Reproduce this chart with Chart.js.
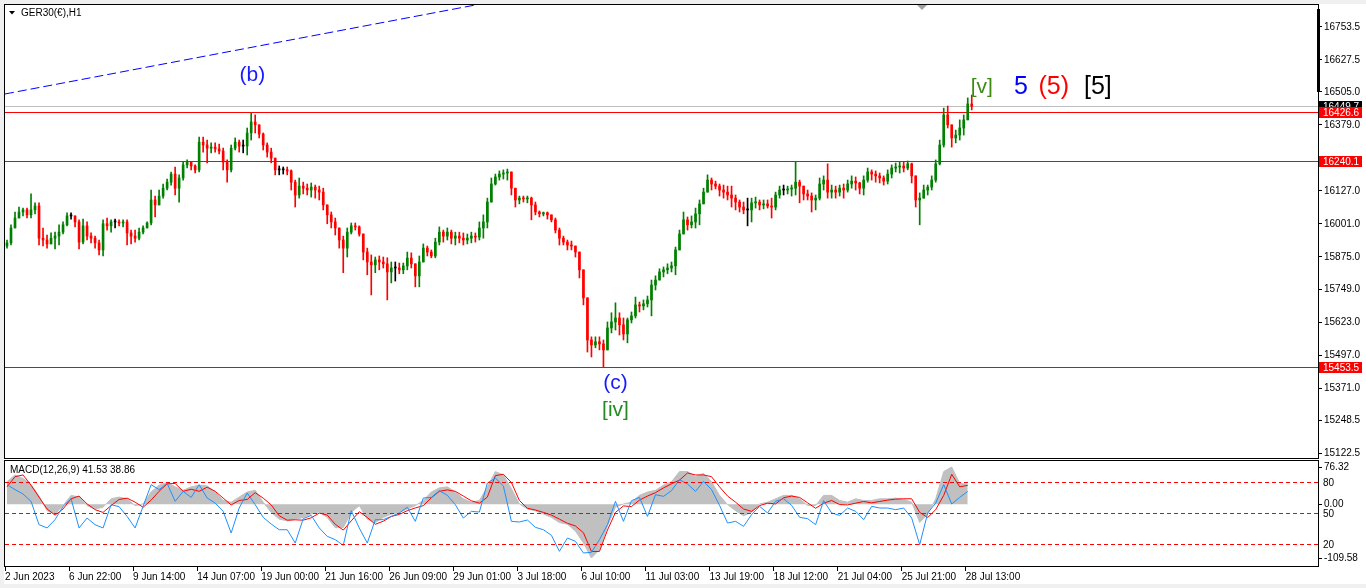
<!DOCTYPE html>
<html>
<head>
<meta charset="utf-8">
<script src="https://cdn.jsdelivr.net/npm/chart.js@4.4.0/dist/chart.umd.min.js"></script>
<style>
  html, body { margin: 0; padding: 0; width: 1366px; height: 588px; overflow: hidden; background: #f0f0f0; }
  #sheet { position: absolute; left: 4px; top: 4px; width: 1362px; height: 580px; background: #fff; }
  #priceBox { position: absolute; left: 0; top: 0; }
  #macdBox { position: absolute; left: 0; top: 458px; }
</style>
</head>
<body>
<div id="sheet"></div>
<canvas id="priceBox" width="1366" height="460"></canvas>
<canvas id="macdBox" width="1366" height="130"></canvas>
<script>
const firstOpen = 15916;
const closes = [
  15928, 15985, 16023, 16046, 16054, 16035, 16054, 16069, 15946, 15939,
  15924, 15946, 15954, 15969, 15997, 16031, 16031, 16008, 15931, 15993,
  15954, 15946, 15928, 15901, 16001, 15993, 16008, 16008, 16004, 16008,
  15966, 15954, 15946, 15969, 15985, 16004, 16092, 16073, 16107, 16137,
  16160, 16191, 16137, 16176, 16226, 16237, 16222, 16207, 16313, 16302,
  16290, 16294, 16287, 16279, 16237, 16207, 16290, 16313, 16298, 16298,
  16348, 16390, 16379, 16344, 16302, 16275, 16252, 16207, 16207, 16207,
  16203, 16160, 16111, 16145, 16137, 16130, 16141, 16130, 16122, 16073,
  16035, 16008, 15985, 15939, 15908, 15969, 15993, 15989, 15962, 15893,
  15855, 15844, 15863, 15855, 15848, 15817, 15832, 15832, 15825, 15840,
  15870, 15848, 15802, 15855, 15908, 15893, 15878, 15931, 15969, 15954,
  15969, 15946, 15954, 15946, 15939, 15946, 15954, 15950, 15985, 16008,
  16084, 16153, 16180, 16191, 16195, 16199, 16137, 16092, 16099, 16096,
  16099, 16073, 16046, 16039, 16043, 16035, 16016, 15977, 15946, 15931,
  15920, 15916, 15893, 15825, 15718, 15557, 15538, 15550, 15542, 15519,
  15603, 15626, 15641, 15615, 15580, 15634, 15649, 15691, 15687, 15695,
  15710, 15767, 15786, 15817, 15825, 15832, 15840, 15901, 15962, 16016,
  15997, 16008, 16039, 16077, 16122, 16168, 16153, 16145, 16130, 16122,
  16111, 16099, 16084, 16065, 16054, 16054, 16081, 16084, 16073, 16077,
  16069, 16065, 16111, 16130, 16130, 16134, 16137, 16160, 16145, 16115,
  16107, 16092, 16099, 16153, 16168, 16122, 16130, 16122, 16137, 16130,
  16153, 16164, 16157, 16137, 16168, 16199, 16191, 16184, 16176, 16164,
  16191, 16214, 16218, 16222, 16214, 16230, 16184, 16092, 16099, 16130,
  16141, 16168, 16230, 16302, 16417, 16379, 16329, 16340, 16367, 16398,
  16459, 16450
];
const highs = [
  15939, 15997, 16046, 16065, 16061, 16061, 16115, 16081, 16081, 15985,
  15958, 15966, 15969, 15997, 16008, 16043, 16043, 16031, 16016, 16019,
  16008, 15966, 15954, 15939, 16016, 16023, 16016, 16019, 16016, 16016,
  16016, 15977, 15977, 15985, 15993, 16008, 16130, 16107, 16130, 16153,
  16172, 16199, 16218, 16188, 16237, 16245, 16237, 16226, 16332, 16332,
  16321, 16310, 16310, 16306, 16290, 16245, 16302, 16329, 16321, 16321,
  16367, 16424, 16417, 16359, 16348, 16310, 16290, 16245, 16222, 16218,
  16218, 16207, 16168, 16176, 16160, 16153, 16157, 16149, 16145, 16137,
  16073, 16046, 16023, 15985, 15954, 15985, 16004, 16004, 15993, 15962,
  15908, 15882, 15874, 15878, 15874, 15871, 15855, 15855, 15851, 15851,
  15893, 15890, 15844, 15878, 15924, 15916, 15901, 15946, 15989, 15977,
  15985, 15977, 15969, 15969, 15966, 15962, 15969, 15966, 16008, 16035,
  16099, 16176, 16191, 16203, 16207, 16210, 16199, 16137, 16107, 16107,
  16107, 16103, 16084, 16050, 16046, 16046, 16035, 16023, 15985, 15954,
  15939, 15935, 15916, 15893, 15825, 15718, 15569, 15569, 15569, 15557,
  15626, 15661, 15699, 15661, 15641, 15641, 15664, 15721, 15702, 15710,
  15725, 15786, 15802, 15829, 15836, 15848, 15855, 15912, 15977, 16046,
  16027, 16031, 16061, 16092, 16137, 16188, 16176, 16164, 16153, 16149,
  16145, 16145, 16111, 16092, 16084, 16099, 16099, 16103, 16092, 16092,
  16092, 16099, 16122, 16145, 16149, 16145, 16149, 16237, 16168, 16137,
  16130, 16119, 16111, 16176, 16184, 16230, 16149, 16145, 16149, 16153,
  16168, 16184, 16180, 16160, 16184, 16214, 16207, 16203, 16195, 16184,
  16207, 16226, 16233, 16237, 16237, 16241, 16233, 16176, 16119, 16149,
  16149, 16184, 16245, 16321, 16443, 16451, 16379, 16359, 16398, 16417,
  16482, 16493
];
const lows = [
  15908, 15920, 15997, 16023, 16031, 16023, 16023, 16039, 15920, 15916,
  15908, 15924, 15905, 15920, 15962, 15993, 16019, 15989, 15905, 15924,
  15939, 15928, 15908, 15882, 15878, 15977, 15969, 15985, 15993, 15989,
  15920, 15924, 15931, 15939, 15962, 15985, 15997, 16027, 16073, 16099,
  16130, 16149, 16111, 16084, 16168, 16214, 16207, 16195, 16199, 16275,
  16234, 16272, 16275, 16268, 16207, 16160, 16199, 16283, 16275, 16272,
  16264, 16321, 16348, 16329, 16283, 16256, 16234, 16188, 16188, 16191,
  16188, 16130, 16065, 16099, 16115, 16111, 16103, 16099, 16092, 16054,
  16001, 15985, 15958, 15908, 15814, 15874, 15962, 15977, 15954, 15863,
  15806, 15729, 15814, 15825, 15832, 15710, 15775, 15782, 15810, 15810,
  15825, 15832, 15760, 15760, 15863, 15878, 15871, 15871, 15920, 15931,
  15939, 15924, 15920, 15928, 15920, 15924, 15928, 15931, 15939, 15946,
  15985, 16092, 16149, 16168, 16172, 16168, 16111, 16065, 16077, 16084,
  16081, 16016, 16035, 16027, 16031, 16019, 16008, 15966, 15920, 15920,
  15901, 15901, 15874, 15794, 15691, 15511, 15492, 15527, 15519, 15454,
  15519, 15584, 15595, 15576, 15557, 15546, 15622, 15641, 15664, 15672,
  15683, 15649, 15748, 15790, 15798, 15810, 15817, 15806, 15901, 15962,
  15977, 15985, 15985, 15997, 16077, 16130, 16130, 16134, 16107, 16099,
  16092, 16065, 16054, 16046, 16039, 15993, 16008, 16061, 16054, 16058,
  16061, 16023, 16054, 16099, 16111, 16115, 16107, 16111, 16081, 16092,
  16092, 16046, 16054, 16092, 16130, 16099, 16099, 16099, 16107, 16099,
  16122, 16137, 16130, 16115, 16111, 16160, 16168, 16160, 16157, 16149,
  16153, 16176, 16199, 16195, 16199, 16207, 16157, 16065, 15997, 16099,
  16111, 16130, 16160, 16226, 16294, 16367, 16294, 16310, 16321, 16340,
  16398, 16436
];

// indicator readings, one per two bars
const macdMain = [
  46.2, 60.1, 53.1, 40.6, 17.0, -12.9, -19.8, -2.5, 18.4, 14.9,
  -2.5, -9.4, -5.9, 11.4, 14.9, 11.4, -2.5, 1.0, 25.3, 39.2,
  44.8, 35.8, 28.8, 35.8, 39.2, 37.8, 25.3, 8.0, 4.5, 14.9,
  25.3, 28.8, 4.5, -16.4, -30.2, -33.7, -30.2, -26.8, -19.8, -15.0,
  -26.8, -47.6, -47.6, -16.4, -2.5, -30.2, -37.2, -26.8, -19.8, -16.4,
  -9.4, -2.5, 8.0, 25.3, 33.7, 35.8, 25.3, 11.4, 4.5, 8.0,
  35.8, 67.0, 60.1, 32.3, 1.0, -9.4, -12.9, -19.8, -26.8, -37.2,
  -40.7, -54.6, -78.9, -109.6, -92.8, -44.1, -5.9, 1.0, 4.5, 18.4,
  25.3, 28.8, 39.2, 46.2, 67.0, 67.0, 56.6, 63.5, 46.2, 18.4,
  -0.4, -12.9, -23.3, -16.4, 1.0, 4.5, 11.4, 18.4, 18.4, 11.4,
  -2.5, -2.5, 18.4, 18.4, 8.0, 4.5, 11.4, 8.0, 8.0, 11.4,
  11.4, 12.8, 10.0, 4.5, -37.2, -19.8, 11.4, 67.0, 76.3, 42.7, 41.5
];
const macdSignal = [
  35.8, 56.6, 60.1, 39.2, 14.9, -9.4, -21.9, -9.4, 11.4, 17.0,
  1.0, -10.8, -16.4, -2.5, 10.0, 12.8, 4.5, -5.9, 8.7, 26.7,
  42.0, 42.7, 26.7, 30.9, 26.7, 35.1, 26.7, 12.8, -1.1, 8.0,
  10.0, 23.9, 12.8, -1.1, -23.3, -32.3, -31.6, -32.3, -27.5, -17.7,
  -21.9, -40.7, -52.5, -33.7, -15.0, -26.8, -40.7, -34.4, -24.7, -20.5,
  -12.9, -7.3, -2.5, 13.5, 26.7, 29.5, 26.7, 17.0, 7.3, 2.4,
  14.9, 58.7, 61.5, 44.8, 8.0, -8.0, -11.5, -16.4, -21.9, -30.2,
  -38.6, -44.1, -58.0, -96.2, -96.2, -52.5, -16.4, -3.2, -4.5, 8.7,
  17.0, 23.9, 33.7, 42.0, 49.6, 64.2, 60.1, 60.1, 56.6, 35.8,
  17.0, 4.5, -9.4, -14.3, -2.5, 2.4, 1.0, 13.5, 17.0, 14.2,
  3.1, -8.0, 2.4, 8.0, -0.4, -1.1, 2.4, 5.9, 3.1, 5.9,
  8.7, 10.7, 11.4, 11.4, -16.4, -26.8, -10.8, 18.4, 61.5, 35.8, 38.9
];
const stochLine = [
  77.7, 72.9, 68.7, 61.6, 39.0, 35.8, 43.8, 56.7, 64.1, 35.8,
  45.4, 39.0, 35.8, 58.3, 56.4, 47.0, 35.8, 56.7, 77.7, 72.9,
  79.0, 61.6, 71.2, 65.4, 77.7, 64.8, 59.9, 51.9, 30.9, 55.1,
  69.6, 58.3, 46.1, 39.6, 34.1, 34.1, 21.2, 44.8, 48.0, 35.8,
  27.7, 24.5, 19.0, 52.5, 35.8, 21.2, 43.8, 43.8, 47.0, 50.3,
  55.8, 42.2, 64.8, 65.4, 71.9, 67.4, 58.3, 45.4, 51.9, 51.2,
  79.3, 84.1, 76.4, 42.2, 41.6, 43.5, 36.4, 34.1, 28.7, 13.2,
  26.1, 22.9, 11.6, 12.2, 24.5, 39.0, 61.6, 42.2, 62.2, 65.4,
  47.0, 68.0, 66.4, 71.9, 82.5, 78.3, 71.2, 80.9, 72.9, 57.7,
  40.6, 42.2, 37.4, 48.7, 56.7, 50.3, 61.6, 64.1, 57.7, 46.1,
  44.8, 39.0, 62.2, 50.3, 48.0, 55.1, 51.9, 43.8, 56.7, 55.1,
  55.1, 53.5, 55.1, 45.4, 19.6, 50.3, 59.9, 77.7, 59.0, 65.4, 71.2
];

const timeLabels = ['2 Jun 2023', '6 Jun 22:00', '9 Jun 14:00', '14 Jun 07:00', '19 Jun 00:00', '21 Jun 16:00',
  '26 Jun 09:00', '29 Jun 01:00', '3 Jul 18:00', '6 Jul 10:00', '11 Jul 03:00', '13 Jul 19:00',
  '18 Jul 12:00', '21 Jul 04:00', '25 Jul 21:00', '28 Jul 13:00'];
const timeLabelBars = [0, 16, 32, 48, 64, 80, 96, 112, 128, 144, 160, 176, 192, 208, 224, 240];
const priceTicks = [16753.5, 16627.5, 16505.0, 16379.0, 16127.0, 16001.0, 15875.0, 15749.0, 15623.0, 15497.0, 15371.0, 15248.5, 15122.5];
const priceLevels = [16426.6, 16240.1, 15453.5];
const lastPrice = 16449.7;
const trendBars = [-0.5, 117];
const trendPrices = [16497, 16837];
const macdTicks = [76.32, 0, -109.58];
const stochLevels = [80, 50, 20];

const waveLabels = [
  { text: '(b)', bar: 61.3, price: 16570, color: '#1a1aff', size: 21 },
  { text: '(c)', bar: 152, price: 15393, color: '#1a1aff', size: 21 },
  { text: '[iv]', bar: 152, price: 15290, color: '#228b22', size: 21 },
  { text: '[v]', bar: 243.5, price: 16524, color: '#3c8c14', size: 21 },
  { text: '5', bar: 253.3, price: 16524, color: '#0000ff', size: 25 },
  { text: '(5)', bar: 261.5, price: 16524, color: '#ff0000', size: 25 },
  { text: '[5]', bar: 272.5, price: 16524, color: '#000000', size: 25 }
];

const SLOTS = 328;
const AXIS_W = 48;
const FAMILY = "'Liberation Sans', Arial, sans-serif";
const SMALL = '10px ' + FAMILY;
const tickFont = { family: FAMILY, size: 10 };

const opens = closes.map((c, i) => (i === 0 ? firstOpen : closes[i - 1]));
const candleColors = closes.map((c, i) => (c > opens[i] ? '#008000' : c < opens[i] ? '#ff0000' : '#000000'));

function hline(ctx, a, py, color) {
  ctx.fillStyle = color;
  ctx.fillRect(a.left, Math.round(py), a.right - a.left, 1);
}

function priceTag(ctx, a, py, text, bg) {
  const y = Math.round(py);
  ctx.fillStyle = bg;
  ctx.fillRect(a.right + 1, y - 5, 43, 11);
  ctx.fillStyle = '#ffffff';
  ctx.font = SMALL;
  ctx.textAlign = 'left';
  ctx.textBaseline = 'middle';
  ctx.fillText(text, a.right + 5, y + 1);
}

const frame = {
  id: 'frame',
  afterDraw(chart) {
    const { ctx, chartArea: a } = chart;
    ctx.save();
    ctx.strokeStyle = '#000';
    ctx.lineWidth = 1;
    ctx.strokeRect(a.left - 0.5, a.top - 0.5, a.right - a.left + 1, a.bottom - a.top + 1);
    ctx.restore();
  }
};

const priceDecor = {
  id: 'priceDecor',
  beforeDatasetsDraw(chart) {
    const { ctx, chartArea: a, scales: { y } } = chart;
    ctx.save();
    hline(ctx, a, y.getPixelForValue(lastPrice), '#c0c0c0');
    priceLevels.forEach((v) => hline(ctx, a, y.getPixelForValue(v), '#ff0000'));
    ctx.restore();
  },
  afterDatasetsDraw(chart) {
    const { ctx, scales: { x, y } } = chart;
    ctx.save();
    ctx.textAlign = 'center';
    ctx.textBaseline = 'middle';
    waveLabels.forEach((w) => {
      ctx.font = w.size + 'px ' + FAMILY;
      ctx.fillStyle = w.color;
      ctx.fillText(w.text, x.getPixelForValue(w.bar), y.getPixelForValue(w.price));
    });
    ctx.restore();
  },
  afterDraw(chart) {
    const { ctx, chartArea: a, scales: { y } } = chart;
    ctx.save();
    priceTag(ctx, a, y.getPixelForValue(lastPrice), lastPrice.toFixed(1), '#000000');
    priceLevels.forEach((v) => priceTag(ctx, a, y.getPixelForValue(v), v.toFixed(1), '#ff0000'));
    ctx.fillStyle = '#000';
    ctx.fillRect(a.right - 1, a.top + 4, 3, 83);
    ctx.fillStyle = '#a0a0a0';
    ctx.beginPath();
    ctx.moveTo(917, a.top);
    ctx.lineTo(927, a.top);
    ctx.lineTo(922, a.top + 5);
    ctx.fill();
    ctx.beginPath();
    ctx.moveTo(9, 11);
    ctx.lineTo(15, 11);
    ctx.lineTo(12, 14.5);
    ctx.fillStyle = '#000';
    ctx.fill();
    ctx.font = SMALL;
    ctx.textAlign = 'left';
    ctx.textBaseline = 'middle';
    ctx.fillText('GER30(€),H1', 21, 13);
    ctx.restore();
  }
};

new Chart(document.getElementById('priceBox'), {
  type: 'bar',
  data: {
    datasets: [
      {
        type: 'line',
        data: trendBars.map((b, i) => ({ x: b, y: trendPrices[i] })),
        borderColor: '#0000ff',
        borderWidth: 1,
        borderDash: [9, 4],
        pointRadius: 0,
      },
      {
        data: closes.map((c, i) => ({ x: i, y: [opens[i], c] })),
        backgroundColor: candleColors,
        barThickness: 2,
        minBarLength: 1,
        grouped: false,
        borderWidth: 0,
      },
      {
        data: closes.map((c, i) => ({ x: i, y: [Math.min(lows[i], opens[i], c), Math.max(highs[i], opens[i], c)] })),
        backgroundColor: candleColors,
        barThickness: 1,
        grouped: false,
        borderWidth: 0,
      },
    ],
  },
  options: {
    responsive: false,
    animation: false,
    events: [],
    layout: { padding: { left: 5, top: 5, right: 0, bottom: 2 } },
    plugins: { legend: { display: false }, tooltip: { enabled: false } },
    scales: {
      x: { type: 'linear', min: -0.5, max: SLOTS - 0.5, offset: false, display: false },
      y: {
        position: 'right',
        min: 15106,
        max: 16837,
        afterBuildTicks(scale) {
          scale.ticks = priceTicks.map((v) => ({ value: v }));
        },
        afterFit(scale) {
          scale.width = AXIS_W;
          scale.paddingTop = 0;
          scale.paddingBottom = 0;
        },
        ticks: { callback: (v) => Number(v).toFixed(1), color: '#000', font: tickFont, padding: 2 },
        grid: { drawOnChartArea: false, tickLength: 4, tickColor: '#000' },
        border: { display: false },
      },
    },
  },
  plugins: [priceDecor, frame],
});

const macdDecor = {
  id: 'macdDecor',
  afterDatasetsDraw(chart) {
    const { ctx, chartArea: a, scales: { stoch } } = chart;
    ctx.save();
    ctx.strokeStyle = '#ff0000';
    ctx.lineWidth = 1;
    ctx.setLineDash([4, 3]);
    stochLevels.forEach((v) => {
      const py = Math.round(stoch.getPixelForValue(v)) + 0.5;
      ctx.beginPath();
      ctx.moveTo(a.left, py);
      ctx.lineTo(a.right, py);
      ctx.stroke();
    });
    ctx.restore();
  },
  afterDraw(chart) {
    const { ctx, chartArea: a, scales: { stoch } } = chart;
    ctx.save();
    ctx.font = SMALL;
    ctx.fillStyle = '#000';
    ctx.textAlign = 'left';
    ctx.textBaseline = 'middle';
    stochLevels.forEach((v) => ctx.fillText(String(v), a.right + 5, Math.round(stoch.getPixelForValue(v)) + 1));
    ctx.fillText('MACD(12,26,9) 41.53 38.86', a.left + 5, a.top + 9);
    ctx.restore();
  }
};

const everyOther = (arr) => arr.map((v, k) => ({ x: k * 2, y: v }));

new Chart(document.getElementById('macdBox'), {
  type: 'line',
  data: {
    datasets: [
      {
        data: everyOther(stochLine),
        yAxisID: 'stoch',
        borderColor: '#1e90ff',
        borderWidth: 1,
        pointRadius: 0,
      },
      {
        data: everyOther(macdSignal),
        yAxisID: 'macd',
        borderColor: '#ff0000',
        borderWidth: 1,
        pointRadius: 0,
      },
      {
        data: everyOther(macdMain),
        yAxisID: 'macd',
        borderColor: '#c0c0c0',
        backgroundColor: '#c0c0c0',
        borderWidth: 1,
        fill: 'origin',
        pointRadius: 0,
      },
    ],
  },
  options: {
    responsive: false,
    animation: false,
    events: [],
    layout: { padding: { left: 5, top: 3, right: 0, bottom: 0 } },
    plugins: { legend: { display: false }, tooltip: { enabled: false } },
    scales: {
      x: {
        type: 'linear',
        min: -0.5,
        max: SLOTS - 0.5,
        afterBuildTicks(scale) {
          scale.ticks = timeLabelBars.map((b) => ({ value: b - 0.5 }));
        },
        afterFit(scale) {
          scale.height = 22;
          scale.paddingLeft = 0;
          scale.paddingRight = 0;
        },
        ticks: {
          callback: (v, i) => timeLabels[i],
          align: 'start',
          autoSkip: false,
          maxRotation: 0,
          padding: 0,
          color: '#000',
          font: tickFont,
        },
        grid: { drawOnChartArea: false, tickLength: 5, tickColor: '#000' },
        border: { display: false },
      },
      macd: {
        position: 'right',
        min: -125.9,
        max: 88.6,
        afterBuildTicks(scale) {
          scale.ticks = macdTicks.map((v) => ({ value: v }));
        },
        afterFit(scale) {
          scale.width = AXIS_W;
          scale.paddingTop = 0;
          scale.paddingBottom = 0;
        },
        ticks: { callback: (v) => Number(v).toFixed(2), color: '#000', font: tickFont, padding: 2 },
        grid: { drawOnChartArea: false, tickLength: 4, tickColor: '#000' },
        border: { display: false },
      },
      stoch: { display: false, min: -1, max: 100.6 },
    },
  },
  plugins: [macdDecor, frame],
});
</script>
</body>
</html>
